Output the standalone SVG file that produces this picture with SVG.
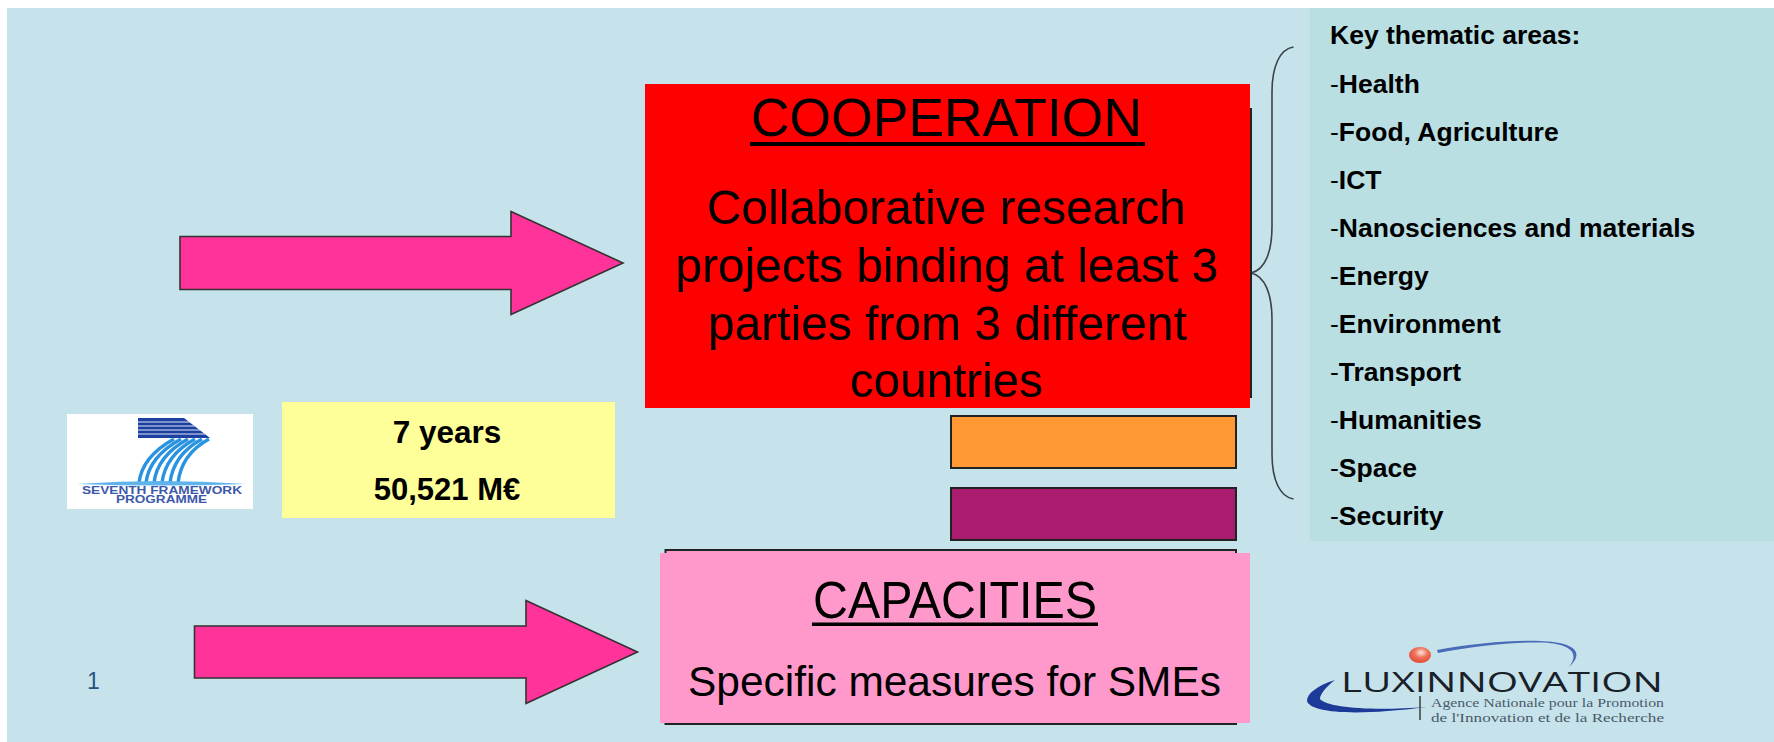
<svg xmlns="http://www.w3.org/2000/svg" width="1774" height="742" viewBox="0 0 1774 742">
<defs>
<style>
text{font-family:"Liberation Sans",Arial,sans-serif;fill:#000}
.c{text-anchor:middle}
.b{font-weight:bold}
.big{font-size:49px}
.area{font-size:26.500px;font-weight:bold}
.area tspan{font-weight:normal}
.arrow{fill:#ff3399;stroke:#333;stroke-width:1.600}
.box{stroke:#222;stroke-width:2}
</style>
<filter id="soft" x="-5%" y="-5%" width="110%" height="110%"><feGaussianBlur stdDeviation="0.6"/></filter>
<radialGradient id="ball" cx="0.55" cy="0.35" r="0.7"><stop offset="0" stop-color="#fbe6dc"/><stop offset="0.45" stop-color="#f0705a"/><stop offset="1" stop-color="#e0452e"/></radialGradient>
</defs>
<rect width="1774" height="742" fill="#fff"/>
<rect x="7" y="8" width="1767" height="734" fill="#c6e3ec"/>
<g id="themes">
<rect x="1310" y="8" width="464" height="533" fill="#b9dfe3"/>
<text class="area" x="1330" y="44">Key thematic areas:</text>
<text class="area" x="1330" y="93"><tspan>-</tspan>Health</text>
<text class="area" x="1330" y="141"><tspan>-</tspan>Food, Agriculture</text>
<text class="area" x="1330" y="189"><tspan>-</tspan>ICT</text>
<text class="area" x="1330" y="237"><tspan>-</tspan>Nanosciences and materials</text>
<text class="area" x="1330" y="285"><tspan>-</tspan>Energy</text>
<text class="area" x="1330" y="333"><tspan>-</tspan>Environment</text>
<text class="area" x="1330" y="381"><tspan>-</tspan>Transport</text>
<text class="area" x="1330" y="429"><tspan>-</tspan>Humanities</text>
<text class="area" x="1330" y="477"><tspan>-</tspan>Space</text>
<text class="area" x="1330" y="525"><tspan>-</tspan>Security</text>
</g>
<g id="connectors">
<path class="arrow" d="M180 236.500H511V211.500L623 263L511 314.500V289.500H180Z"/>
<path class="arrow" d="M194.500 626H526V600.500L637.500 652L526 703.500V678H194.500Z"/>
<path d="M1293.500 47C1280 49 1272 66 1272 92V226C1272 252 1265 270 1251 273C1265 276 1272 294 1272 320V454C1272 480 1280 497 1293.500 499" fill="none" stroke="#3a4448" stroke-width="1.600"/>
</g>
<g id="cooperation">
<rect x="660" y="109" width="591" height="288" fill="#ff0000" stroke="#222" stroke-width="2"/>
<rect x="645" y="84" width="605" height="324" fill="#ff0000"/>
<text x="751" y="136" font-size="54" textLength="391" lengthAdjust="spacingAndGlyphs">COOPERATION</text>
<rect x="750" y="142" width="395" height="4"/>
<text class="big" x="707" y="224" textLength="479" lengthAdjust="spacingAndGlyphs">Collaborative research</text>
<text class="big" x="675.500" y="282" textLength="543" lengthAdjust="spacingAndGlyphs">projects binding at least 3</text>
<text class="big" x="708" y="340" textLength="479" lengthAdjust="spacingAndGlyphs">parties from 3 different</text>
<text class="big" x="850" y="397" textLength="193" lengthAdjust="spacingAndGlyphs">countries</text>
</g>
<g id="orange-bar"><rect class="box" x="951" y="416" width="285" height="52" fill="#ff9933"/></g>
<g id="purple-bar"><rect class="box" x="951" y="488" width="285" height="52" fill="#a91c6f"/></g>
<g id="capacities">
<rect x="665.500" y="550" width="570.500" height="174" fill="#ff99cc" stroke="#222" stroke-width="2"/>
<rect x="660" y="553" width="590" height="170" fill="#ff99cc"/>
<text x="813" y="618" font-size="51" textLength="284" lengthAdjust="spacingAndGlyphs">CAPACITIES</text>
<rect x="812" y="622.500" width="286" height="3.500"/>
<text x="688" y="696" font-size="43" textLength="533" lengthAdjust="spacingAndGlyphs">Specific measures for SMEs</text>
</g>
<g id="budget">
<rect x="282" y="402" width="333" height="116" fill="#ffff99"/>
<text class="c b" x="447" y="443" font-size="31.500">7 years</text>
<text class="c b" x="447" y="500" font-size="31">50,521 M€</text>
</g>
<g id="fp7-logo">
<rect x="67" y="414" width="186" height="95" fill="#fff"/>
<g filter="url(#soft)">
<path d="M138 418H184L210 438H138Z" fill="#1f3fa0"/>
<path d="M138 422H190M138 426H195M138 430H200M138 434H205" stroke="#dfe8f6" stroke-width="1"/>
<g fill="none" stroke="#2a93e0" stroke-width="3.400">
<path d="M209 439C189 450 180 465 178 483"/>
<path d="M202 439C182 450 172 465 170 483"/>
<path d="M195 439C175 450 164 465 162 483"/>
<path d="M188 439C168 450 156 465 154 483"/>
<path d="M181 439C161 450 148 465 146 483"/>
<path d="M174 439C154 450 141 465 139 483"/>
</g>
<path d="M77 484Q160 478 246 484Q160 487 77 484Z" fill="#5fb4ec"/>
</g>
<text x="82" y="494" font-size="11.500" font-weight="bold" textLength="160" lengthAdjust="spacingAndGlyphs" style="fill:#3d58a8">SEVENTH FRAMEWORK</text>
<text x="116" y="503" font-size="11" font-weight="bold" textLength="91" lengthAdjust="spacingAndGlyphs" style="fill:#3d58a8">PROGRAMME</text>
</g>
<g id="page-number"><text x="87" y="689" font-size="23" style="fill:#24557f">1</text></g>
<g id="luxinnovation-logo">
<g filter="url(#soft)">
<ellipse cx="1420" cy="655" rx="11" ry="8" fill="url(#ball)"/>
<path d="M1437 650C1470 644 1510 640 1540 641C1570 642 1588 650 1568 668C1582 652 1568 643 1540 642.500C1510 642 1470 647 1438 653Z" fill="#4a6cb8"/>
<path d="M1335 680C1316 686 1307 694 1307 701C1310 712 1350 717 1427 707C1372 711 1328 708 1320 699C1320 694 1326 687 1335 680Z" fill="#1f3a98"/>
<path d="M1420 696V720" stroke="#555" stroke-width="1.800"/>
</g>
<text x="1341" y="692" font-size="28" textLength="322" lengthAdjust="spacingAndGlyphs" style="font-family:'Open Sans','Liberation Sans',sans-serif;fill:#1a2028">LUXINNOVATION</text>
<text x="1431" y="707" font-size="13.500" textLength="233" lengthAdjust="spacingAndGlyphs" style="font-family:'Liberation Serif',serif;fill:#4a5a68">Agence Nationale pour la Promotion</text>
<text x="1431" y="722" font-size="13.500" textLength="233" lengthAdjust="spacingAndGlyphs" style="font-family:'Liberation Serif',serif;fill:#4a5a68">de l'Innovation et de la Recherche</text>
</g>
</svg>
